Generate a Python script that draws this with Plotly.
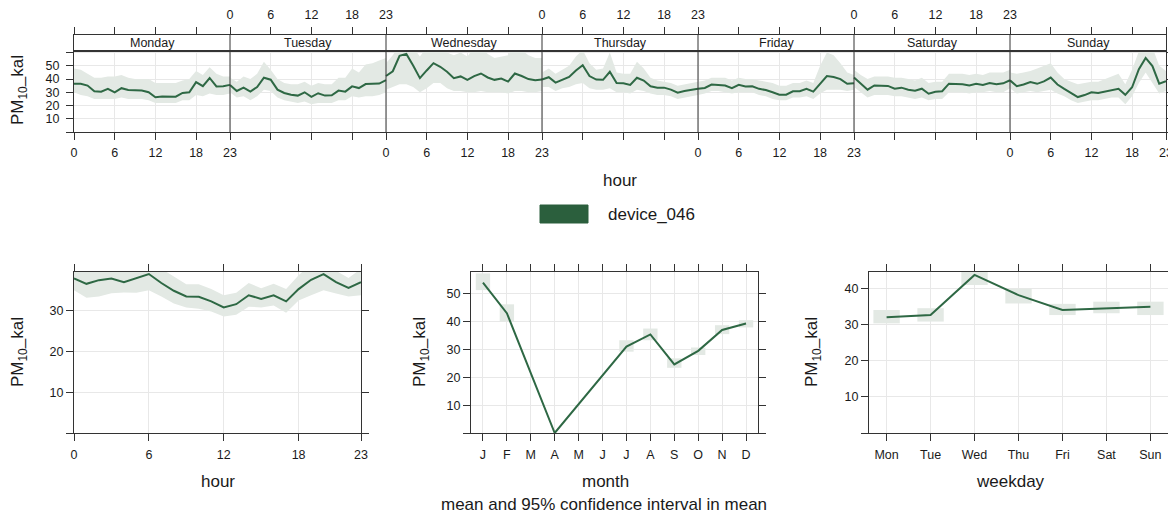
import plotly.graph_objects as go

LINE = "#2e6844"
BAND = "#e3e9e4"
FRAME = "#333333"
GRID = "#e8e8e8"
TXT = "#1a1a1a"
FONT = "Liberation Sans, Arial, sans-serif"

# the page body has an 8px margin, so the figure is drawn 8px in from the corner
OFF = 8
W, H = 1176 - OFF, 515 - OFF

HOURS = list(range(24))
DAY_NAMES = ["Monday", "Tuesday", "Wednesday", "Thursday", "Friday", "Saturday", "Sunday"]

# hour-of-week means and 95% CI, one list per weekday
MON = [36.4, 36.4, 35.1, 30.8, 30.5, 32.6, 30.0, 33.1, 31.8, 31.5, 31.3, 30.0,
       26.2, 26.9, 26.7, 26.7, 29.5, 30.0, 37.7, 34.6, 40.8, 34.4, 34.6, 35.6]
MON_HI = [48, 47, 44, 41, 41, 42, 42, 43, 41, 40, 40, 40, 37, 37, 37, 37, 39, 40, 46, 43, 49, 44, 42, 42]
MON_LO = [30, 28, 27, 25, 25, 25, 25, 26, 25, 25, 25, 24, 22, 22, 22, 22, 24, 24, 28, 27, 29, 28, 28, 29]

TUE = [35.5, 31.0, 33.5, 30.5, 34.0, 41.0, 39.5, 32.0, 29.5, 28.2, 27.5, 30.0,
       26.5, 29.3, 27.5, 27.8, 31.3, 30.5, 34.5, 33.2, 36.2, 36.6, 36.6, 39.2]
TUE_HI = [41, 38, 42, 40, 44, 53, 47, 40, 37, 36, 36, 38, 35, 37, 36, 36, 41, 41, 48, 45, 51, 52, 54, 56]
TUE_LO = [30, 26, 27, 24, 27, 32, 31, 26, 24, 23, 22, 23, 21, 22, 22, 22, 24, 24, 27, 26, 27, 27, 28, 30]

WED = [42.3, 45.9, 57.5, 59.0, 50.3, 40.7, 46.5, 52.0, 49.3, 45.5, 40.7, 42.0,
       39.4, 42.2, 44.2, 41.2, 39.4, 40.4, 38.1, 44.2, 42.3, 40.0, 39.1, 39.6]
WED_HI = [52, 58, 66, 68, 64, 57, 64, 66, 63, 60, 58, 60, 57, 64, 65, 59, 56, 57, 58, 66, 62, 58, 56, 56]
WED_LO = [32, 34, 36, 36, 34, 30, 33, 37, 37, 33, 31, 31, 30, 30, 31, 30, 30, 30, 29, 31, 31, 30, 30, 31]

THU = [39.7, 41.4, 37.3, 39.7, 41.6, 46.5, 50.5, 42.3, 39.6, 39.4, 45.5, 37.0,
       36.8, 35.6, 41.0, 38.9, 34.5, 33.5, 33.5, 32.0, 29.7, 30.9, 31.7, 32.6]
THU_HI = [45, 48, 44, 47, 50, 57, 62, 52, 47, 48, 60, 45, 44, 44, 53, 48, 41, 39, 38, 37, 35, 36, 37, 38]
THU_LO = [34, 34, 31, 33, 34, 36, 37, 33, 32, 32, 33, 30, 30, 29, 32, 31, 29, 28, 28, 27, 25, 26, 27, 28]

FRI = [32.6, 33.3, 35.8, 35.6, 35.1, 33.1, 35.6, 34.4, 34.6, 32.6, 31.7, 30.0,
       28.2, 28.2, 30.8, 30.8, 32.6, 30.5, 36.5, 42.3, 41.5, 40.0, 36.4, 36.8]
FRI_HI = [38, 39, 41, 41, 41, 39, 41, 40, 40, 39, 38, 37, 35, 35, 37, 37, 39, 37, 50, 60, 58, 52, 45, 43]
FRI_LO = [28, 29, 31, 31, 30, 29, 30, 30, 30, 28, 27, 25, 24, 24, 26, 26, 27, 25, 29, 32, 32, 32, 31, 32]

SAT = [41.1, 36.5, 32.0, 35.2, 35.2, 34.8, 32.7, 33.5, 32.0, 31.2, 32.7, 28.9,
       30.4, 30.8, 36.5, 36.5, 36.0, 35.2, 36.5, 35.5, 37.0, 36.1, 36.8, 39.1]
SAT_HI = [47, 43, 40, 42, 42, 42, 41, 41, 40, 39, 41, 37, 38, 38, 44, 44, 44, 43, 44, 43, 45, 45, 45, 47]
SAT_LO = [34, 30, 26, 28, 28, 28, 27, 27, 26, 25, 26, 24, 25, 25, 30, 30, 30, 29, 30, 30, 31, 30, 30, 33]

SUN = [39.0, 34.6, 35.9, 37.7, 36.4, 38.2, 41.1, 35.9, 32.6, 29.5, 26.4, 27.9,
       30.0, 29.5, 30.5, 31.3, 32.6, 28.1, 33.8, 47.5, 56.0, 49.8, 36.5, 38.3]
SUN_HI = [45, 44, 45, 46, 48, 50, 52, 45, 40, 38, 36, 37, 38, 38, 40, 42, 44, 36, 47, 61, 66, 64, 50, 46]
SUN_LO = [33, 29, 30, 31, 30, 31, 32, 29, 27, 24, 22, 23, 24, 24, 25, 26, 26, 21, 27, 37, 45, 37, 29, 31]

WEEK = [(MON, MON_LO, MON_HI), (TUE, TUE_LO, TUE_HI), (WED, WED_LO, WED_HI),
        (THU, THU_LO, THU_HI), (FRI, FRI_LO, FRI_HI), (SAT, SAT_LO, SAT_HI),
        (SUN, SUN_LO, SUN_HI)]

# diurnal profile
HOUR_MEAN = [37.9, 36.6, 37.5, 37.9, 37.0, 38.0, 39.0, 36.8, 34.9, 33.5, 33.4, 32.3,
             30.8, 31.6, 33.8, 32.9, 33.8, 32.3, 35.3, 37.6, 39.0, 37.0, 35.6, 37.0]
HOUR_HI = [41.0, 40.2, 41.5, 41.6, 39.8, 41.5, 43.0, 40.3, 38.3, 36.5, 36.5, 35.3,
           33.8, 34.4, 36.8, 35.5, 36.6, 35.3, 38.7, 41.5, 43.0, 39.8, 38.0, 40.3]
HOUR_LO = [35.0, 33.2, 33.5, 34.3, 34.5, 34.4, 35.0, 33.5, 31.8, 30.8, 30.5, 29.8,
           28.6, 29.0, 31.0, 30.8, 31.3, 29.5, 32.5, 33.8, 35.0, 34.2, 33.5, 33.8]

# monthly means (months without data are left out)
MONTH_LABELS = ["J", "F", "M", "A", "M", "J", "J", "A", "S", "O", "N", "D"]
MONTHS = [1, 2, 4, 7, 8, 9, 10, 11, 12]
MONTH_MEAN = [54.0, 43.0, 0.0, 31.0, 35.4, 24.6, 29.5, 37.0, 39.3]
CI_MONTHS = [1, 2, 7, 8, 9, 10, 11, 12]
MONTH_LO = [51.3, 40.0, 29.2, 33.3, 23.4, 28.0, 35.5, 37.9]
MONTH_HI = [57.3, 46.2, 33.3, 37.5, 26.8, 30.7, 38.7, 40.5]

# weekday means
WDAY_LABELS = ["Mon", "Tue", "Wed", "Thu", "Fri", "Sat", "Sun"]
WDAY = [1, 2, 3, 4, 5, 6, 7]
WDAY_MEAN = [32.0, 32.6, 43.7, 38.1, 34.0, 34.5, 34.9]
WDAY_LO = [30.3, 30.8, 40.9, 35.8, 32.6, 33.1, 32.6]
WDAY_HI = [34.0, 34.5, 44.6, 39.9, 35.7, 36.3, 36.3]


def px_x(x):
    return (x - OFF) / W


def px_y(y):
    return 1 - (y - OFF) / H


fig = go.Figure()

# ---- top panel: hour of week ----
for d, (m, lo, hi) in enumerate(WEEK):
    xs = [23 * d + h for h in HOURS]
    fig.add_trace(go.Scatter(x=xs + xs[::-1], y=hi + lo[::-1], fill="toself",
                             fillcolor=BAND, line=dict(width=0), mode="lines",
                             hoverinfo="skip", xaxis="x", yaxis="y"))
for d, (m, lo, hi) in enumerate(WEEK):
    xs = [23 * d + h for h in HOURS]
    fig.add_trace(go.Scatter(x=xs, y=m, mode="lines", line=dict(color=LINE, width=2),
                             xaxis="x", yaxis="y"))

# ---- bottom left: hour ----
fig.add_trace(go.Scatter(x=HOURS + HOURS[::-1], y=HOUR_HI + HOUR_LO[::-1], fill="toself",
                         fillcolor=BAND, line=dict(width=0), mode="lines",
                         xaxis="x3", yaxis="y3"))
fig.add_trace(go.Scatter(x=HOURS, y=HOUR_MEAN, mode="lines", line=dict(color=LINE, width=2),
                         xaxis="x3", yaxis="y3"))

# ---- bottom middle: month ----
fig.add_trace(go.Bar(x=CI_MONTHS, base=MONTH_LO,
                     y=[h - l for h, l in zip(MONTH_HI, MONTH_LO)],
                     width=0.6, marker=dict(color=BAND, line=dict(width=0)),
                     xaxis="x4", yaxis="y4"))
fig.add_trace(go.Scatter(x=MONTHS, y=MONTH_MEAN, mode="lines", line=dict(color=LINE, width=2),
                         xaxis="x4", yaxis="y4"))

# ---- bottom right: weekday ----
fig.add_trace(go.Bar(x=WDAY, base=WDAY_LO,
                     y=[h - l for h, l in zip(WDAY_HI, WDAY_LO)],
                     width=0.6, marker=dict(color=BAND, line=dict(width=0)),
                     xaxis="x5", yaxis="y5"))
fig.add_trace(go.Scatter(x=WDAY, y=WDAY_MEAN, mode="lines", line=dict(color=LINE, width=2),
                         xaxis="x5", yaxis="y5"))

# tick positions for the hour-of-week axes
bottom_ticks, top_ticks = {}, {}
for d in range(7):
    for h in (0, 6, 12, 18, 23):
        pos = 23 * d + h
        lab = str(h)
        if d % 2 == 0:
            bottom_ticks[pos] = lab
            top_ticks.setdefault(pos, "")
        else:
            top_ticks[pos] = lab
            bottom_ticks.setdefault(pos, "")
btv = sorted(bottom_ticks)
ttv = sorted(top_ticks)

tickfont = dict(family=FONT, size=12.5, color=TXT)
common = dict(showline=True, linecolor=FRAME, linewidth=1, ticks="outside", ticklen=7,
              tickcolor=FRAME, tickfont=tickfont, zeroline=False, gridcolor=GRID,
              fixedrange=True, automargin=False)

top_x = [px_x(74), px_x(1166)]
fig.update_layout(
    xaxis=dict(common, domain=top_x, range=[0, 161], anchor="y", tickmode="array",
               tickvals=btv, ticktext=[bottom_ticks[v] for v in btv], mirror=True,
               ticklabelstandoff=2),
    yaxis=dict(common, domain=[px_y(132), px_y(51)], range=[0, 61.2], anchor="x",
               tickmode="array", tickvals=[0, 10, 20, 30, 40, 50, 60],
               ticktext=["", "10", "20", "30", "40", "50", ""], mirror="ticks",
               ticklabelstandoff=4),
    xaxis2=dict(common, domain=top_x, range=[0, 161], anchor="y2", side="top",
                tickmode="array", tickvals=ttv, ticktext=[top_ticks[v] for v in ttv],
                showgrid=False, mirror=True, ticklabelstandoff=3),
    yaxis2=dict(domain=[px_y(51), px_y(35)], range=[0, 1], anchor="x2", showline=True,
                linecolor=FRAME, mirror=True, showticklabels=False, showgrid=False,
                zeroline=False, ticks="", automargin=False, fixedrange=True),
    xaxis3=dict(common, domain=[px_x(74), px_x(361)], range=[0, 23], anchor="y3",
                tickmode="array", tickvals=[0, 6, 12, 18, 23], mirror="ticks",
                ticklabelstandoff=3),
    yaxis3=dict(common, domain=[px_y(433), px_y(272)], range=[0, 39.5], anchor="x3",
                tickmode="array", tickvals=[0, 10, 20, 30], ticktext=["", "10", "20", "30"],
                mirror="ticks"),
    xaxis4=dict(common, domain=[px_x(471), px_x(758)], range=[0.5, 12.5], anchor="y4",
                tickmode="array", tickvals=list(range(1, 13)), ticktext=MONTH_LABELS,
                mirror="ticks", ticklabelstandoff=3),
    yaxis4=dict(common, domain=[px_y(433), px_y(272)], range=[0, 57.8], anchor="x4",
                tickmode="array", tickvals=[0, 10, 20, 30, 40, 50],
                ticktext=["", "10", "20", "30", "40", "50"], mirror="ticks"),
    xaxis5=dict(common, domain=[px_x(869), px_x(1168)], range=[0.6, 7.4], anchor="y5",
                tickmode="array", tickvals=WDAY, ticktext=WDAY_LABELS, mirror="ticks",
                ticklabelstandoff=3),
    yaxis5=dict(common, domain=[px_y(433), px_y(272)], range=[0, 44.5], anchor="x5",
                tickmode="array", tickvals=[0, 10, 20, 30, 40],
                ticktext=["", "10", "20", "30", "40"], mirror="ticks"),
)

# day boundaries in the top panel
for d in range(1, 7):
    fig.add_shape(type="line", xref="x", yref="paper", x0=23 * d, x1=23 * d,
                  y0=px_y(132), y1=px_y(35), line=dict(color=FRAME, width=1))

annotations = []
for d, name in enumerate(DAY_NAMES):
    annotations.append(dict(x=23 * d + 11.5, y=0.5, xref="x2", yref="y2", text=name,
                            xanchor="center", yanchor="middle", showarrow=False,
                            font=dict(family=FONT, size=12.5, color=TXT)))

title_font = dict(family=FONT, size=17, color=TXT)
ylab = "PM<sub>10</sub>_kal"
for x, y in [(19, 90), (19, 352), (421, 352), (813, 352)]:
    annotations.append(dict(x=px_x(x), y=px_y(y), xref="paper", yref="paper", text=ylab,
                            textangle=-90, xanchor="center", yanchor="middle",
                            showarrow=False, font=title_font))
for x, y, t in [(620, 181, "hour"), (218, 481, "hour"), (605, 481, "month"),
                (1010, 481, "weekday"), (604, 504, "mean and 95% confidence interval in mean")]:
    annotations.append(dict(x=px_x(x), y=px_y(y), xref="paper", yref="paper", text=t,
                            xanchor="center", yanchor="middle", showarrow=False,
                            font=title_font))

# legend key
annotations.append(dict(x=px_x(606), y=px_y(214), xref="paper", yref="paper",
                        text="device_046", xanchor="left", yanchor="middle",
                        showarrow=False, font=title_font))
fig.add_shape(type="rect", xref="paper", yref="paper", x0=px_x(540), x1=px_x(588),
              y0=px_y(223), y1=px_y(205), fillcolor="#2b5f3d", line=dict(color="#2b5f3d", width=1))

fig.update_layout(
    width=W, height=H, margin=dict(l=0, r=0, t=0, b=0, autoexpand=False),
    paper_bgcolor="white", plot_bgcolor="white", showlegend=False,
    annotations=annotations, font=dict(family=FONT, color=TXT),
)

fig.write_html("out.html", config={"displayModeBar": False})
